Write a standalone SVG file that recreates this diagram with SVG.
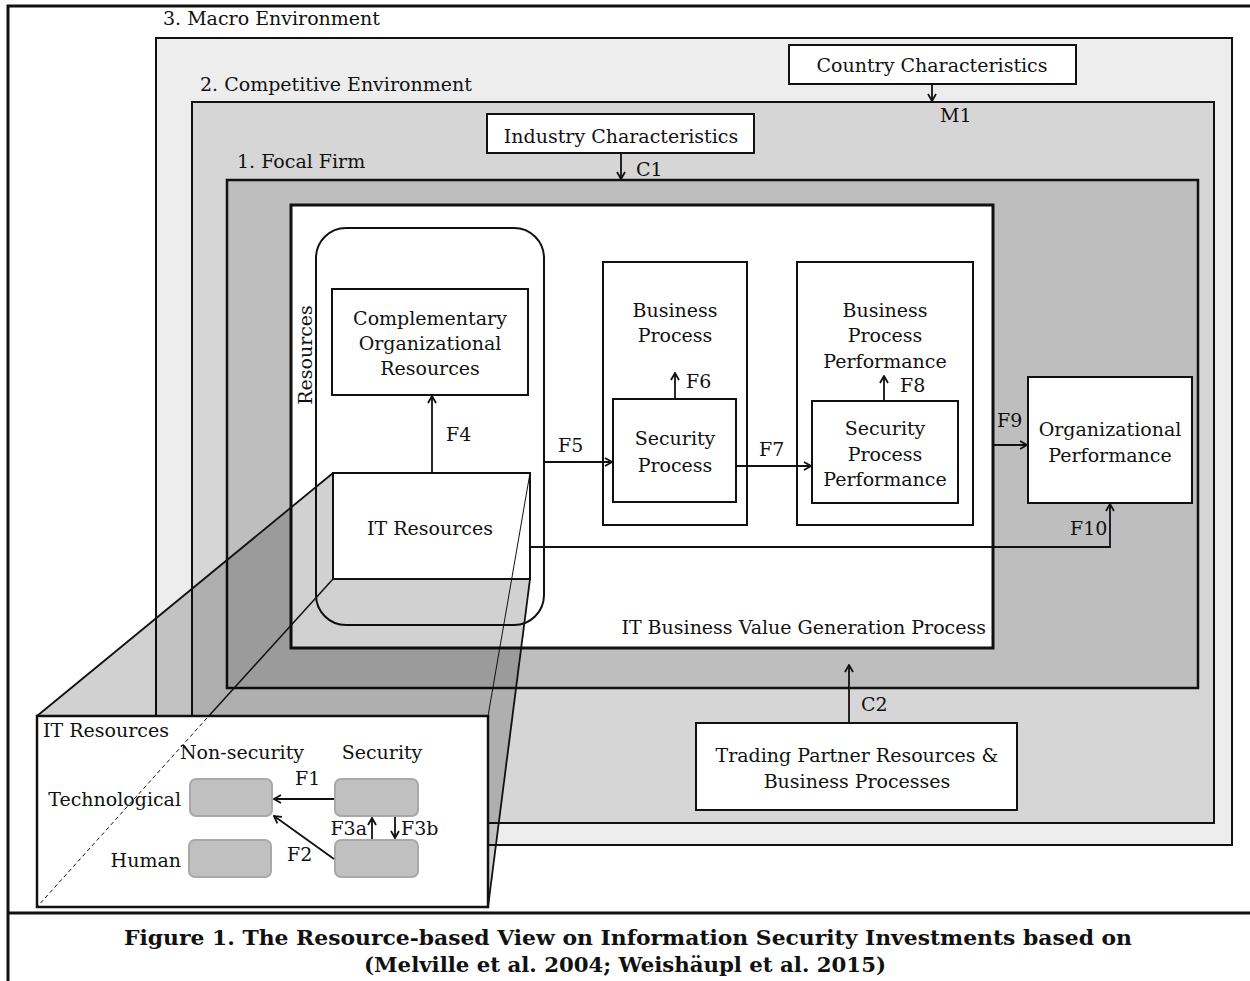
<svg xmlns="http://www.w3.org/2000/svg" width="1250" height="981" viewBox="0 0 1250 981">
<defs>
<style>
text{font-family:"DejaVu Serif","Liberation Serif",serif;font-size:19px;fill:#111}
.c{text-anchor:middle}
.e{text-anchor:end}
.box{fill:#fff;stroke:#111;stroke-width:2}
.frame{stroke:#111;stroke-width:2}
.ln{fill:none;stroke:#111;stroke-width:1.8}
.gb{fill:#c0c0c0;stroke:#a9a9a9;stroke-width:2}
.cap{font-weight:bold;font-size:20px}
</style>
<marker id="ah" viewBox="0 0 10 10" refX="9" refY="5" markerWidth="10" markerHeight="10" markerUnits="userSpaceOnUse" orient="auto">
<path d="M2,1 L9,5 L2,9" fill="none" stroke="#111" stroke-width="1.8"/>
</marker>
</defs>
<rect width="1250" height="981" fill="#fff"/>
<path d="M8,981 V6 H1250 M8,913 H1250" fill="none" stroke="#111" stroke-width="3"/>

<g id="macro">
<rect x="156" y="38" width="1076" height="807" fill="#ededed" class="frame"/>
<text x="163" y="25">3. Macro Environment</text>
</g>
<g id="competitive">
<rect x="192" y="102" width="1022" height="721" fill="#d6d6d6" class="frame"/>
<text x="200" y="91">2. Competitive Environment</text>
</g>
<g id="focal">
<rect x="227" y="180" width="971" height="508" fill="#bebebe" stroke="#111" stroke-width="2.5"/>
<text x="237" y="168">1. Focal Firm</text>
</g>
<g id="value-process">
<rect x="291" y="205" width="702" height="443" fill="#fff" stroke="#111" stroke-width="3"/>
<text x="986" y="634" class="e">IT Business Value Generation Process</text>
</g>
<g id="country">
<rect x="789" y="45" width="287" height="39" class="box"/>
<text x="932" y="72" class="c">Country Characteristics</text>
</g>
<g id="industry">
<rect x="487" y="114" width="267" height="39" class="box"/>
<text x="621" y="143" class="c">Industry Characteristics</text>
</g>
<g id="resources">
<rect x="316" y="228" width="228" height="397" rx="30" fill="none" stroke="#111" stroke-width="2"/>
<text transform="translate(312,355) rotate(-90)" class="c">Resources</text>
</g>
<g id="complementary">
<rect x="332" y="289" width="196" height="106" class="box"/>
<text x="430" y="325" class="c">Complementary</text>
<text x="430" y="350" class="c">Organizational</text>
<text x="430" y="375" class="c">Resources</text>
</g>
<g id="business-process">
<rect x="603" y="262" width="144" height="263" class="box"/>
<text x="675" y="317" class="c">Business</text>
<text x="675" y="342" class="c">Process</text>
</g>
<g id="security-process">
<rect x="613" y="399" width="123" height="103" class="box"/>
<text x="675" y="445" class="c">Security</text>
<text x="675" y="472" class="c">Process</text>
</g>
<g id="bpp">
<rect x="797" y="262" width="176" height="263" class="box"/>
<text x="885" y="317" class="c">Business</text>
<text x="885" y="342" class="c">Process</text>
<text x="885" y="368" class="c">Performance</text>
</g>
<g id="spp">
<rect x="812" y="401" width="146" height="102" class="box"/>
<text x="885" y="435" class="c">Security</text>
<text x="885" y="461" class="c">Process</text>
<text x="885" y="486" class="c">Performance</text>
</g>
<g id="org-performance">
<rect x="1028" y="377" width="164" height="126" class="box"/>
<text x="1110" y="436" class="c">Organizational</text>
<text x="1110" y="462" class="c">Performance</text>
</g>
<g id="trading-partner">
<rect x="696" y="723" width="321" height="87" class="box"/>
<text x="857" y="762" class="c">Trading Partner Resources &amp;</text>
<text x="857" y="788" class="c">Business Processes</text>
</g>

<g id="connectors">
<line x1="932" y1="84" x2="932" y2="101" class="ln" marker-end="url(#ah)"/>
<line x1="621" y1="153" x2="621" y2="179" class="ln" marker-end="url(#ah)"/>
<line x1="432" y1="473" x2="432" y2="396" class="ln" marker-end="url(#ah)"/>
<line x1="544" y1="462" x2="612" y2="462" class="ln" marker-end="url(#ah)"/>
<line x1="675" y1="399" x2="675" y2="373" class="ln" marker-end="url(#ah)"/>
<line x1="736" y1="466" x2="811" y2="466" class="ln" marker-end="url(#ah)"/>
<line x1="884" y1="401" x2="884" y2="376" class="ln" marker-end="url(#ah)"/>
<line x1="993" y1="445" x2="1027" y2="445" class="ln" marker-end="url(#ah)"/>
<path d="M530,547 H1110 V504" class="ln" marker-end="url(#ah)"/>
<line x1="849" y1="723" x2="849" y2="665" class="ln" marker-end="url(#ah)"/>
</g>
<g id="connector-labels">
<text x="940" y="122">M1</text>
<text x="636" y="176">C1</text>
<text x="446" y="441">F4</text>
<text x="558" y="452">F5</text>
<text x="686" y="388">F6</text>
<text x="759" y="456">F7</text>
<text x="900" y="392">F8</text>
<text x="997" y="427">F9</text>
<text x="1070" y="535">F10</text>
<text x="861" y="711">C2</text>
</g>

<g id="projection">
<polygon points="333,473 530,473 530,579 488,907 37,907 37,716" fill="#000" fill-opacity="0.18"/>
</g>
<g id="it-resources">
<rect x="333" y="473" width="197" height="106" class="box"/>
<text x="430" y="535" class="c">IT Resources</text>
</g>
<g id="projection-edges" fill="none" stroke="#111">
<line x1="530" y1="473" x2="488" y2="716" stroke-width="1"/>
<line x1="333" y1="473" x2="37" y2="716" stroke-width="1.8"/>
<line x1="530" y1="579" x2="488" y2="907" stroke-width="1.8"/>
<line x1="333" y1="579" x2="207" y2="718" stroke-width="1.5"/>
</g>
<g id="it-resources-detail">
<rect x="37" y="716" width="451" height="191" fill="#fff" stroke="#111" stroke-width="2.5"/>
<line x1="207" y1="718" x2="37" y2="907" fill="none" stroke="#111" stroke-width="1" stroke-dasharray="4,3"/>
<text x="43" y="737">IT Resources</text>
<text x="242" y="759" class="c">Non-security</text>
<text x="382" y="759" class="c">Security</text>
<text x="181" y="806" class="e">Technological</text>
<text x="181" y="867" class="e">Human</text>
<rect x="190" y="779" width="82" height="37" rx="6" class="gb"/>
<rect x="335" y="779" width="83" height="37" rx="6" class="gb"/>
<rect x="189" y="840" width="82" height="37" rx="6" class="gb"/>
<rect x="335" y="840" width="83" height="37" rx="6" class="gb"/>
<line x1="334" y1="799" x2="274" y2="799" class="ln" stroke-width="2" marker-end="url(#ah)"/>
<line x1="334" y1="859" x2="274" y2="816" class="ln" stroke-width="2" marker-end="url(#ah)"/>
<line x1="372" y1="839" x2="372" y2="818" class="ln" stroke-width="2" marker-end="url(#ah)"/>
<line x1="395" y1="817" x2="395" y2="838" class="ln" stroke-width="2" marker-end="url(#ah)"/>
<text x="295" y="785">F1</text>
<text x="287" y="861">F2</text>
<text x="367" y="835" class="e">F3a</text>
<text x="401" y="835">F3b</text>
</g>

<g id="caption">
<text x="628" y="945" class="c cap" textLength="1008" lengthAdjust="spacingAndGlyphs">Figure 1.  The Resource-based View on Information Security Investments based on</text>
<text x="625" y="972" class="c cap" textLength="522" lengthAdjust="spacingAndGlyphs">(Melville et al. 2004; Weishäupl et al. 2015)</text>
</g>
</svg>
